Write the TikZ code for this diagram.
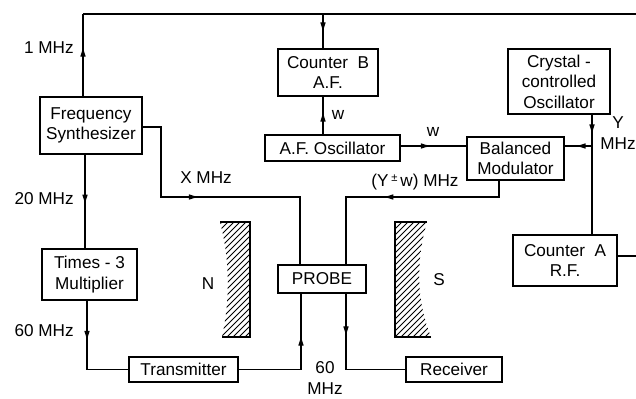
\documentclass[tikz,border=0pt]{standalone}
\usepackage{fontspec}
\setmainfont{Liberation Sans}
\usetikzlibrary{arrows.meta, decorations.markings, positioning, calc}
\newcommand\pxu{0.025cm}
\newcommand\labelfont{\fontsize{12.2}{14.5}\selectfont}
\tikzset{
    unit/.style 2 args={rectangle, draw, line width=0.9pt, align=center,
        inner sep=1pt, minimum width=#1*\pxu, minimum height=#2*\pxu,
        font=\labelfont},
    wire/.style={line width=0.9pt},
    midarrow/.style={postaction={decorate}, decoration={markings,
        mark=at position #1 with {\arrow{Latex[length=7.5pt,width=4pt]}}}},
    tag/.style={font=\labelfont, inner sep=0pt, align=center},
    hatch/.style={line width=0.7pt},
}

\begin{document}
\begin{tikzpicture}[x=\pxu, y=-\pxu]
    \useasboundingbox (0,0) rectangle (636,399);

    % blocks
    \node[unit={102}{57}] (synth) at (91,125.5) {Frequency\\Synthesizer};
    \node[unit={95}{51}] (times) at (89.5,274.5) {Times - 3\\Multiplier};
    \node[unit={109}{25}] (transmitter) at (183.5,369.5) {Transmitter};
    \node[unit={88}{28}] (probe) at (322,279) {PROBE};
    \node[unit={96}{25}] (receiver) at (454,369.5) {Receiver};
    \node[unit={100}{47}] (counterB) at (328,72.5) {Counter~~B\\A.F.};
    \node[unit={135}{26}] (afosc) at (332.5,148) {A.F. Oscillator};
    \node[unit={97}{43}] (balmod) at (515.5,158.5) {Balanced\\Modulator};
    \node[unit={102}{65}] (crystal) at (559,81.5) {Crystal -\\controlled\\Oscillator};
    \node[unit={104}{51}] (counterA) at (565,260.5) {Counter~~A\\R.F.};

    % magnet poles
    \begin{scope}
        \clip (220,222) -- (250,222) -- (250,337) -- (222,337)
            .. controls (230,300) and (230,260) .. (220,222);
        \foreach \k in {0,...,34}
            \draw[hatch] (190,200+\k*6) -- ++(80,-80);
    \end{scope}
    \draw[wire] (220,222) -- (250,222) -- (250,337) -- (222,337);
    \begin{scope}
        \clip (395,222) -- (427,222)
            .. controls (416,260) and (416,300) .. (431,337) -- (395,337) -- cycle;
        \foreach \k in {0,...,34}
            \draw[hatch] (370,200+\k*6) -- ++(80,-80);
    \end{scope}
    \draw[wire] (427,222) -- (395,222) -- (395,337) -- (431,337);
    \node[tag] (north) at (208,284) {N};
    \node[tag] (south) at (439,280) {S};

    % junctions
    \coordinate (tl) at (83,14);
    \coordinate (tr) at (637,14);
    \coordinate (tjoin) at (323,14);
    \coordinate (yjoin) at (592,146);

    % connectors
    \draw[wire, midarrow=0.61] (83,0 |- synth.north) -- (tl);
    \draw[wire] (tl) -- (tr) |- (counterA.east |- 0,256);
    \draw[wire, midarrow=0.55] (tjoin) -- (323,0 |- counterB.north);
    \draw[wire, midarrow=0.62] (323,0 |- afosc.north) -- (323,0 |- counterB.south);
    \draw[wire, midarrow=0.47] (afosc.east |- 0,146) -- (balmod.west |- 0,146);
    \draw[wire, midarrow=0.17] (592,0 |- crystal.south) -- (592,0 |- counterA.north);
    \draw[wire, midarrow=0.62] (yjoin) -- (balmod.east |- 0,146);
    \draw[wire, midarrow=0.43] (synth.east |- 0,127) -| (161,197) -| (300,0 |- probe.north);
    \draw[wire, midarrow=0.56] (499,0 |- balmod.south) |- (346,197) -- (346,0 |- probe.north);
    \draw[wire, midarrow=0.54] (85,0 |- synth.south) -- (85,0 |- times.north);
    \draw[wire, midarrow=0.37] (87,0 |- times.south) |- (transmitter.west);
    \draw[wire, midarrow=0.7] (transmitter.east) -| (301,0 |- probe.south);
    \draw[wire, midarrow=0.32] (346,0 |- probe.south) |- (receiver.west);

    % signal labels
    \node[tag, anchor=east] (f1) at (74,48) {1 MHz};
    \node[tag, anchor=east] (f20) at (74,199) {20 MHz};
    \node[tag, anchor=east] (f60) at (74,331) {60 MHz};
    \node[tag] (fx) at (206,178) {X MHz};
    \node[tag] (w1) at (338,115) {w};
    \node[tag] (w2) at (433,132) {w};
    \node[tag] (fyw) at (415,182) {(Y\,\raisebox{0.5ex}{\footnotesize ±}\,w) MHz};
    \node[tag] (fy) at (618,133) {Y\\MHz};
    \node[tag] (fp) at (325,378) {60\\MHz};
\end{tikzpicture}
\end{document}
